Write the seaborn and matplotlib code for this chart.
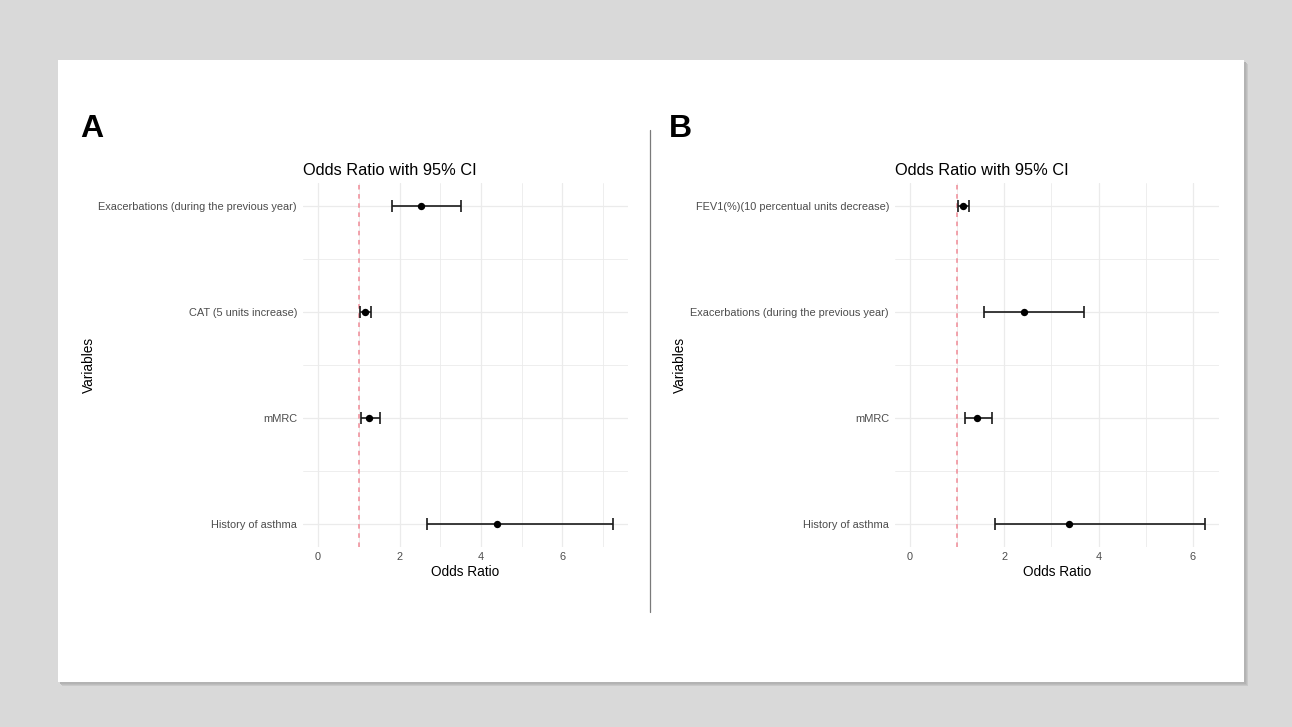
import numpy as np
import pandas as pd
import matplotlib
matplotlib.use("Agg")
import matplotlib.pyplot as plt
import seaborn as sns
from matplotlib.patches import Rectangle
from matplotlib.lines import Line2D

# ---- data ----
vars_a = ["Exacerbations (during the previous year)", "CAT (5 units increase)", "mMRC", "History of asthma"]
or_a = [2.53, 1.15, 1.26, 4.40]
lo_a = [1.82, 1.03, 1.05, 2.67]
hi_a = [3.50, 1.30, 1.52, 7.24]

vars_b = ["FEV1(%)(10 percentual units decrease)", "Exacerbations (during the previous year)", "mMRC", "History of asthma"]
or_b = [1.13, 2.42, 1.43, 3.37]
lo_b = [1.01, 1.58, 1.17, 1.81]
hi_b = [1.26, 3.70, 1.74, 6.25]

x_ticks = [0, 2, 4, 6]
panel_letters = ["A", "B"]
title_text = "Odds Ratio with 95% CI"
x_title = "Odds Ratio"
y_title = "Variables"
ref_line = 1.0

sns.set_theme(style="white")
plt.rcParams["font.family"] = ["Liberation Sans", "DejaVu Sans"]

W, H = 1292, 727
fig = plt.figure(figsize=(W / 100, H / 100), dpi=100)
fig.patch.set_facecolor("#d9d9d9")


def box(l, t, r, b):
    return [l / W, 1 - b / H, (r - l) / W, (b - t) / H]


# card shadow + card
for off, col in [(4, "#c8c8c8"), (3, "#bdbdbd"), (2, "#b3b3b3")]:
    fig.patches.append(Rectangle((58 / W + off / W, 1 - (682 + off) / H), (1244 - 58) / W, (682 - 60) / H,
                                 transform=fig.transFigure, facecolor=col, edgecolor="none", zorder=0))
fig.patches.append(Rectangle((58 / W, 1 - 682 / H), (1244 - 58) / W, (682 - 60) / H,
                             transform=fig.transFigure, facecolor="white", edgecolor="none", zorder=1))

# divider
fig.add_artist(Line2D([650 / W, 650 / W], [1 - 612 / H, 1 - 130 / H], transform=fig.transFigure,
                      color="#7a7a7a", lw=0.9, zorder=2))

panels = [
    (vars_a, or_a, lo_a, hi_a, (303.3, 183.3, 627.7, 546.7), (-0.362, 7.602), 95.5, 80),
    (vars_b, or_b, lo_b, hi_b, (895.3, 183.3, 1219.3, 546.7), (-0.3125, 6.5625), 687, 669),
]

for (vars_, ors, los, his, rect, xlim, ylab_x, letter_x), letter in zip(panels, panel_letters):
    df = pd.DataFrame({"var": vars_, "or": ors, "lo": los, "hi": his})
    df["pos"] = np.arange(len(df))
    ax = fig.add_axes(box(*rect))
    ax.set_facecolor("none")
    ax.set_zorder(3)
    n = len(df)
    ax.set_xlim(*xlim)
    ax.set_ylim(n - 1 + 0.213, -0.213)

    # grid
    for xv in np.arange(0, xlim[1], 1):
        ax.axvline(xv, color="#ebebeb", lw=0.9 if xv % 2 == 0 else 0.6, zorder=0)
    for yv in df["pos"]:
        ax.axhline(yv, color="#ebebeb", lw=0.9, zorder=0)
    for yv in df["pos"][:-1] + 0.5:
        ax.axhline(yv, color="#ebebeb", lw=0.6, zorder=0)

    ax.axvline(ref_line, color="#f08a96", lw=1.1, ls=(0, (3, 3)), zorder=1)

    ax.errorbar(df["or"], df["pos"], xerr=[df["or"] - df["lo"], df["hi"] - df["or"]],
                fmt="none", ecolor="#1a1a1a", elinewidth=1.2, capsize=4.6, capthick=1.2, zorder=2)
    sns.scatterplot(data=df, x="or", y="pos", ax=ax, color="black", s=28, edgecolor="black",
                    linewidth=0, zorder=3, legend=False)

    ax.set_xticks(x_ticks)
    ax.set_xticklabels([str(t) for t in x_ticks])
    ax.set_yticks(df["pos"])
    ax.set_yticklabels(df["var"])
    ax.tick_params(axis="both", length=0, labelsize=7.9, labelcolor="#4d4d4d")
    ax.tick_params(axis="x", pad=4)
    ax.tick_params(axis="y", pad=4.5)
    for s in ax.spines.values():
        s.set_visible(False)

    ax.set_xlabel(x_title, fontsize=9.8, color="black", labelpad=2)
    ax.set_ylabel(y_title, fontsize=9.8, color="black")
    ax.yaxis.set_label_coords((ylab_x - rect[0]) / (rect[2] - rect[0]), 0.5)
    ax.set_title(title_text, fontsize=11.8, color="black", loc="left", pad=6)

    fig.text(letter_x / W, 1 - 137 / H, letter, fontsize=23, fontweight="bold", color="black",
             ha="left", va="baseline", zorder=5)

fig.savefig("out.png", dpi=100, facecolor=fig.get_facecolor())
